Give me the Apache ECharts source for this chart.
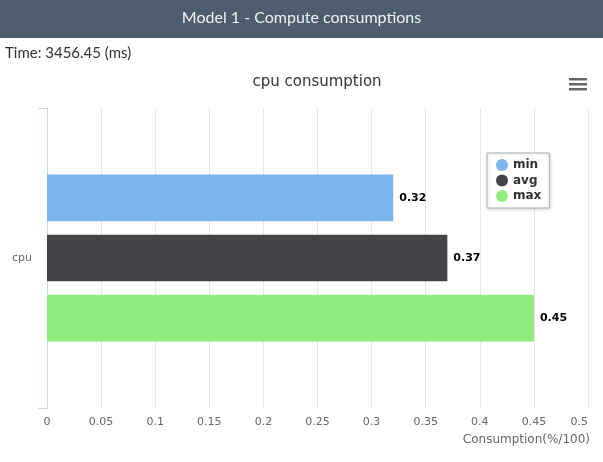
<!DOCTYPE html>
<html>
<head>
<meta charset="utf-8">
<script src="https://cdn.jsdelivr.net/npm/echarts@6/dist/echarts.min.js"></script>
<style>
html,body{margin:0;padding:0;background:#fff;}
#chart{width:603px;height:462px;}
</style>
</head>
<body>
<div id="chart"></div>
<script>
var categories = ['cpu'];
var seriesNames = ['min', 'avg', 'max'];
var minValues = [0.32];
var avgValues = [0.37];
var maxValues = [0.45];
var seriesColors = ['#7cb5ec', '#434348', '#90ed7d'];
var headerText = 'Model 1 - Compute consumptions';
var timeText = 'Time: 3456.45 (ms)';
var chartTitle = 'cpu consumption';
var xAxisName = 'Consumption(%/100)';

var chart = echarts.init(document.getElementById('chart'), null, {renderer: 'canvas'});
var labelFont = '"DejaVu Sans", "Lucida Grande", Arial, sans-serif';
var seriesData = [minValues, avgValues, maxValues];

var series = seriesNames.map(function (name, i) {
  return {
    name: name,
    type: 'bar',
    data: seriesData[i],
    itemStyle: {color: seriesColors[i]},
    barGap: '28.5%',
    barCategoryGap: '44.4%',
    label: {
      show: true,
      position: 'right',
      distance: 6,
      fontFamily: labelFont,
      fontWeight: 'bold',
      fontSize: 11,
      color: '#000',
      formatter: function (p) { return p.value; }
    }
  };
});

chart.setOption({
  animation: false,
  backgroundColor: '#fff',
  title: {
    text: chartTitle,
    left: 312,
    top: 70,
    textAlign: 'center',
    textStyle: {fontFamily: labelFont, fontSize: 15, fontWeight: 'normal', color: '#333'}
  },
  legend: {
    data: seriesNames,
    orient: 'vertical',
    left: 487,
    top: 153,
    icon: 'circle',
    itemWidth: 12,
    itemHeight: 12,
    itemGap: 3.5,
    padding: [6, 8, 6, 9],
    backgroundColor: '#fff',
    borderColor: '#b0b0b0',
    borderWidth: 1,
    shadowColor: 'rgba(0,0,0,0.18)',
    shadowBlur: 3,
    shadowOffsetX: 1,
    shadowOffsetY: 1,
    textStyle: {fontFamily: labelFont, fontWeight: 'bold', fontSize: 12, color: '#333'}
  },
  grid: {left: 47, right: 15, top: 108, bottom: 54, containLabel: false},
  xAxis: {
    type: 'value',
    min: 0,
    max: 0.5,
    interval: 0.05,
    name: xAxisName,
    nameLocation: 'end',
    nameGap: 0,
    nameTextStyle: {fontFamily: labelFont, fontSize: 12, color: '#666', align: 'right', verticalAlign: 'top', padding: [26, -2, 0, 0]},
    axisLine: {show: false},
    axisTick: {show: false},
    splitLine: {show: true, lineStyle: {color: '#e6e6e6', width: 1}},
    axisLabel: {
      fontFamily: labelFont, fontSize: 11, color: '#666', margin: 9,
      alignMaxLabel: 'right',
      formatter: function (v) { return String(Math.round(v * 100) / 100); }
    }
  },
  yAxis: {
    type: 'category',
    data: categories,
    inverse: true,
    axisLine: {show: true, lineStyle: {color: '#ccd6eb'}},
    axisTick: {show: true, length: 9, lineStyle: {color: '#ccd6eb'}},
    axisLabel: {fontFamily: labelFont, fontSize: 11, color: '#666', margin: 15},
    splitLine: {show: false}
  },
  graphic: [
    {type: 'rect', left: 0, top: 0, shape: {width: 603, height: 38}, style: {fill: '#4e5d6d'}, z: 0},
    {type: 'text', left: 'center', top: 10, style: {text: headerText, fill: '#f2f2f2', font: '16px Lato, sans-serif'}},
    {type: 'text', left: 5, top: 46, style: {text: timeText, fill: '#333', font: '15px Lato, sans-serif'}},
    {type: 'group', left: 569, top: 78, children: [
      {type: 'rect', shape: {x: 0, y: 0, width: 18, height: 2.5}, style: {fill: '#666'}},
      {type: 'rect', shape: {x: 0, y: 5, width: 18, height: 2.5}, style: {fill: '#666'}},
      {type: 'rect', shape: {x: 0, y: 10, width: 18, height: 2.5}, style: {fill: '#666'}}
    ]}
  ],
  series: series
});
</script>
</body>
</html>
